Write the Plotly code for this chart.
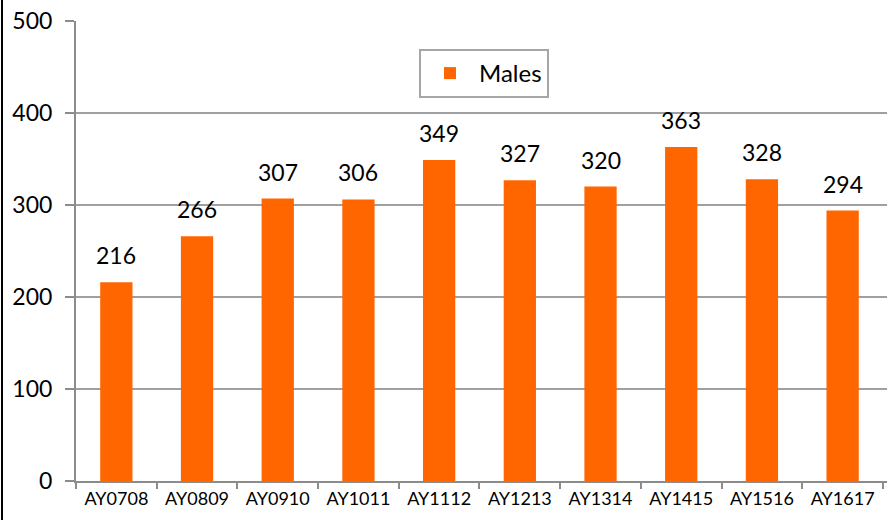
import plotly.graph_objects as go

categories = ["AY0708", "AY0809", "AY0910", "AY1011", "AY1112",
              "AY1213", "AY1314", "AY1415", "AY1516", "AY1617"]
males = [216, 266, 307, 306, 349, 327, 320, 363, 328, 294]
y_ticks = [0, 100, 200, 300, 400, 500]

W, H = 888, 520
ml, mr, mt, mb = 76, 1, 21, 39

fig = go.Figure()
fig.add_trace(go.Bar(
    x=categories, y=males, name="Males",
    marker=dict(color="#FF6600", line=dict(width=0)),
    width=0.4, showlegend=True,
))

for c, v in zip(categories, males):
    fig.add_annotation(x=c, y=v, text=str(v), showarrow=False,
                       yanchor="bottom", yshift=11,
                       font=dict(family="Lato", size=23, color="#000000"))

pw = W - ml - mr
fig.add_shape(type="line", xref="paper", yref="paper",
              x0=(2 - ml) / pw, x1=(2 - ml) / pw, y0=-1, y1=2,
              line=dict(color="#000000", width=2))

fig.update_layout(
    width=W, height=H,
    margin=dict(l=ml, r=mr, t=mt, b=mb),
    paper_bgcolor="white", plot_bgcolor="white",
    font=dict(family="Lato", color="#000000"),
    bargap=0.6,
    legend=dict(x=(419 - ml) / pw, y=1 - (49 - mt) / (H - mt - mb),
                xanchor="left", yanchor="top",
                bordercolor="#A6A6A6", borderwidth=2,
                font=dict(size=24), bgcolor="white",
                itemwidth=48, entrywidth=134, entrywidthmode="pixels",
                tracegroupgap=0),
    xaxis=dict(range=[-0.5, 9.55], showline=True, linecolor="#8C8C8C", linewidth=2,
               ticks="outside", ticklen=6, tickcolor="#8C8C8C", tickwidth=2,
               tickson="boundaries", tickfont=dict(size=18), showgrid=False),
    yaxis=dict(range=[0, 500], tickvals=y_ticks, showline=True,
               linecolor="#8C8C8C", linewidth=2, ticks="outside", ticklen=9,
               tickcolor="#8C8C8C", tickwidth=2, gridcolor="#A0A0A0", gridwidth=2,
               tickfont=dict(size=23), zeroline=False, ticklabelstandoff=8),
)

fig.write_html("out.html", config={"displayModeBar": False},
               post_script="document.body.style.margin='0';document.body.style.overflow='hidden';")
